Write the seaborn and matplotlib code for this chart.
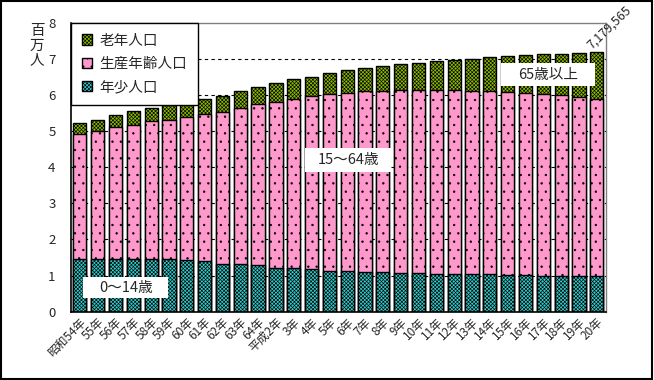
import matplotlib
matplotlib.use('Agg')
import matplotlib.pyplot as plt
from matplotlib.patches import Patch, Rectangle
import pandas as pd
import seaborn as sns

# 年次ラベル
years = ['昭和54年', '55年', '56年', '57年', '58年', '59年', '60年', '61年', '62年', '63年',
         '64年', '平成2年', '3年', '4年', '5年', '6年', '7年', '8年', '9年', '10年',
         '11年', '12年', '13年', '14年', '15年', '16年', '17年', '18年', '19年', '20年']

# 人口（百万人）
young = [1.45, 1.47, 1.47, 1.47, 1.47, 1.45, 1.42, 1.39, 1.33, 1.31,
         1.28, 1.22, 1.20, 1.17, 1.14, 1.13, 1.11, 1.11, 1.08, 1.08,
         1.05, 1.05, 1.03, 1.03, 1.02, 1.02, 1.00, 1.00, 0.99, 0.99]
working = [3.46, 3.54, 3.63, 3.71, 3.80, 3.87, 3.96, 4.07, 4.19, 4.32,
           4.46, 4.59, 4.68, 4.79, 4.88, 4.92, 4.99, 4.99, 5.05, 5.05,
           5.08, 5.08, 5.07, 5.07, 5.05, 5.03, 5.02, 4.99, 4.95, 4.91]
old = [0.30, 0.31, 0.34, 0.37, 0.36, 0.39, 0.42, 0.43, 0.46, 0.48,
       0.48, 0.51, 0.55, 0.55, 0.58, 0.63, 0.64, 0.70, 0.73, 0.76,
       0.80, 0.84, 0.90, 0.95, 1.00, 1.05, 1.11, 1.15, 1.22, 1.28]

legend_labels = ['老年人口', '生産年齢人口', '年少人口']
c_old, c_work, c_young = '#8CBB00', '#FF99CC', '#33CCCC'
checker = 'xxxxxxxxx'

sns.set_style('white')
plt.rcParams['font.family'] = ['Noto Sans CJK JP', 'DejaVu Sans']
plt.rcParams['hatch.linewidth'] = 0.45

df = pd.DataFrame({'year': years, 'young': young, 'working': working, 'old': old})
df['mid'] = df['young'] + df['working']
df['total'] = df['mid'] + df['old']

fig = plt.figure(figsize=(6.54, 3.80), dpi=100)
ax = fig.add_axes([70.9 / 654, 1 - 311.7 / 380, (605.7 - 70.9) / 654, (311.7 - 22.7) / 380])

# stacked bars: draw cumulative heights back to front
for col, color, hatch in [('total', c_old, checker), ('mid', c_work, '..'), ('young', c_young, checker)]:
    sns.barplot(data=df, x='year', y=col, color=color, saturation=1, width=0.74,
                edgecolor='black', linewidth=1, hatch=hatch, ax=ax)

ax.set_ylim(0, 8)
ax.set_xlim(-0.5, len(years) - 0.5)
ax.set_yticks(range(9))
ax.set_xlabel('')
ax.set_ylabel('')
ax.set_axisbelow(True)
ax.yaxis.grid(True, color='black', linestyle=(0, (3, 3)), linewidth=0.8)
ax.get_ygridlines()[-1].set_visible(False)

ax.tick_params(axis='y', length=0, pad=11, labelsize=9.5)
ax.tick_params(axis='x', length=0, pad=3, labelsize=8.5)
plt.setp(ax.get_xticklabels(), rotation=45, ha='right', rotation_mode='anchor')

for s in ['top', 'right']:
    ax.spines[s].set_color('#808080')
    ax.spines[s].set_linewidth(1)
for s in ['left', 'bottom']:
    ax.spines[s].set_color('black')
    ax.spines[s].set_linewidth(1.2)

handles = [Patch(facecolor=c_old, edgecolor='black', hatch=checker),
           Patch(facecolor=c_work, edgecolor='black', hatch='..'),
           Patch(facecolor=c_young, edgecolor='black', hatch=checker)]
leg = ax.legend(handles, legend_labels, loc='upper left', bbox_to_anchor=(0, 1),
                borderaxespad=0, fancybox=False, framealpha=1, edgecolor='black',
                fontsize=10.5, handlelength=0.7, handleheight=0.7,
                labelspacing=0.64, handletextpad=0.5, borderpad=0.75)
leg.get_frame().set_linewidth(1)
leg.set_zorder(6)

# white label boxes (center x, center y, width, height in data units)
for txt, cx, cy, w, h in [('0～14歳', 2.57, 0.66, 4.77, 0.58),
                          ('15～64歳', 15.06, 4.2, 4.8, 0.64),
                          ('65歳以上', 26.27, 6.56, 5.3, 0.64)]:
    ax.add_patch(Rectangle((cx - w / 2, cy - h / 2), w, h, facecolor='white',
                           edgecolor='none', zorder=4))
    ax.text(cx, cy, txt, ha='center', va='center', fontsize=10.5, zorder=5)

ax.text(len(years) - 1 - 0.3, df['total'].iloc[-1] + 0.08, '7,179,565', rotation=44,
        rotation_mode='anchor', ha='left', va='baseline', fontsize=9, clip_on=False)

fig.text(37 / 654, 1 - 46 / 380, '百\n万\n人', ha='center', va='center',
         fontsize=10.5, linespacing=1.05)

fig.patches.append(Rectangle((0.002, 0.003), 0.995, 0.994, transform=fig.transFigure,
                             fill=False, edgecolor='black', linewidth=1.5))

fig.savefig('out.png', dpi=100)
